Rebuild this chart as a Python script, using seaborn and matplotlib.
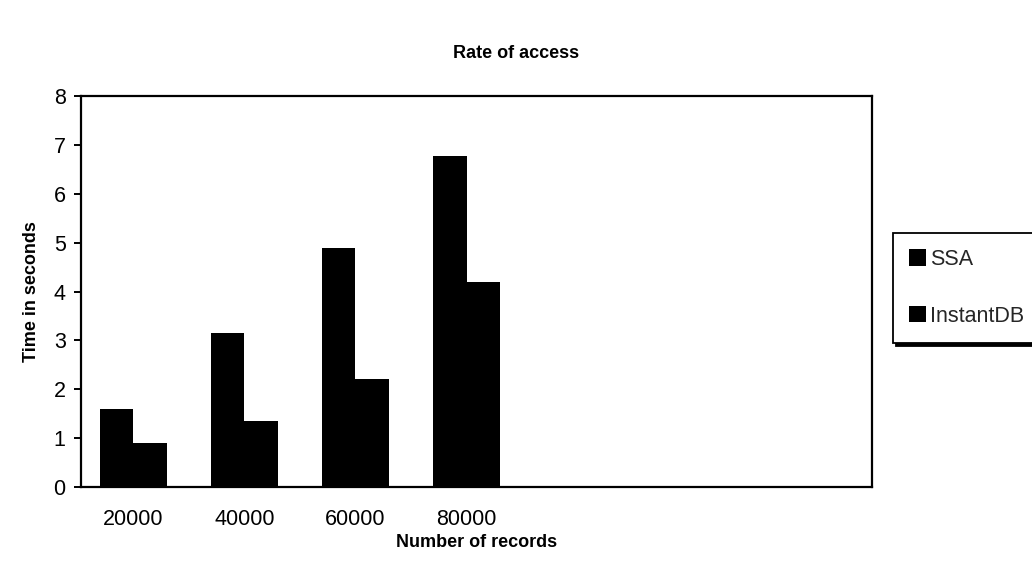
import matplotlib
matplotlib.use("Agg")
import matplotlib.pyplot as plt
import seaborn as sns
import pandas as pd

records = ["20000", "40000", "60000", "80000"]
ssa = [1.6, 3.15, 4.9, 6.77]
instantdb = [0.9, 1.35, 2.2, 4.2]
series_names = ["SSA", "InstantDB"]

df = pd.DataFrame({
    "Records": records * 2,
    "Time": ssa + instantdb,
    "Series": [series_names[0]] * len(records) + [series_names[1]] * len(records),
})

sns.set_theme(style="white")
plt.rcParams["font.family"] = ["Liberation Sans", "DejaVu Sans"]

W, H = 1032, 569
fig, ax = plt.subplots(figsize=(W / 100, H / 100), dpi=100)
fig.subplots_adjust(left=81 / W, right=872 / W, top=1 - 96 / H, bottom=1 - 487 / H)

sns.barplot(data=df, x="Records", y="Time", hue="Series", order=records,
            palette=["black", "black"], width=0.6, saturation=1,
            edgecolor="black", linewidth=0, ax=ax)

ax.set_xlim(-0.47, 6.65)
ax.set_ylim(0, 8)
ax.set_yticks(range(0, 9))
for s in ax.spines.values():
    s.set_visible(True)
    s.set_color("black")
    s.set_linewidth(1.6)

ax.tick_params(axis="y", left=True, length=5, width=1.4, color="black", pad=6, labelsize=15.5, labelcolor="black")
ax.tick_params(axis="x", bottom=False, pad=10, labelsize=15.5, labelcolor="black")

ax.set_xlabel("Number of records", fontsize=13, fontweight="bold", labelpad=3, color="black")
ax.set_ylabel("Time in seconds", fontsize=13, fontweight="bold", labelpad=10, color="black")
fig.text(0.5, 1 - 53 / H, "Rate of access", ha="center", va="center",
         fontsize=13, fontweight="bold", color="black")

leg = ax.legend(loc="upper left", bbox_to_anchor=(893 / W, 1 - 233 / H),
                bbox_transform=fig.transFigure, fancybox=False, frameon=True,
                edgecolor="black", framealpha=1, shadow={"color": "black", "alpha": 1},
                labelspacing=1.65, handlelength=0.8, handleheight=0.8,
                handletextpad=0.15, borderpad=0.75, borderaxespad=0,
                fontsize=15.5, title=None)
leg.get_frame().set_linewidth(1.3)

plt.savefig("out.png", dpi=100)
